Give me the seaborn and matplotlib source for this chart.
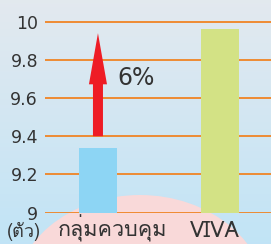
import matplotlib
matplotlib.use('Agg')
import matplotlib.pyplot as plt
from matplotlib import font_manager
from matplotlib.ft2font import FT2Font
from matplotlib.patches import Ellipse
import numpy as np
import pandas as pd
import seaborn as sns

groups = ['กลุ่มควบคุม', 'VIVA']
scores = [9.34, 9.96]
bar_colors = ['#8dd5f4', '#d3e285']
yticks = [9, 9.2, 9.4, 9.6, 9.8, 10]
ytick_labels = ['9', '9.2', '9.4', '9.6', '9.8', '10']
arrow_from = 9.4
arrow_to = 9.94
gain_label = '6%'
unit_label = '(ตัว)'


def thai_family():
    '''
    Pick an installed family that has Thai glyphs
    '''
    for f in font_manager.fontManager.ttflist:
        try:
            if 0x0E01 in FT2Font(f.fname).get_charmap():
                return f.name
        except Exception:
            pass
    return 'DejaVu Sans'


thai = thai_family()
plt.rcParams['font.family'] = [thai, 'DejaVu Sans']

fig = plt.figure(figsize=(2.71, 2.44), dpi=100)

# background: vertical gradient + pink ellipse
bg = fig.add_axes([0, 0, 1, 1])
grad = np.linspace(0, 1, 256).reshape(-1, 1)
top = np.array([0.890, 0.914, 0.937])
bottom = np.array([0.757, 0.894, 0.965])
img = top + (bottom - top) * grad[..., None]
bg.imshow(img, extent=[0, 271, 244, 0], aspect='auto')
bg.add_patch(Ellipse((140, 302), 256, 214, color='#f9d9d9', lw=0))
bg.set_xlim(0, 271)
bg.set_ylim(244, 0)
bg.axis('off')

ax = fig.add_axes([45 / 271, (244 - 212.5) / 244, 1 - 45 / 271, 212.5 / 244])
ax.patch.set_alpha(0)

df = pd.DataFrame({'group': groups, 'score': scores})
sns.barplot(data=df, x='group', y='score', hue='group', palette=bar_colors,
            width=0.31, saturation=1, legend=False, ax=ax)

ax.set_ylim(9, 10.114)
ax.set_xlim(-0.434, 1.418)
ax.set_yticks(yticks)
ax.set_yticklabels(ytick_labels, fontsize=12.5, color='#333333', family='DejaVu Sans')
ax.tick_params(axis='y', length=0, pad=5)
ax.set_xticks([])
ax.set_xlabel('')
ax.set_ylabel('')
for s in ax.spines.values():
    s.set_visible(False)
ax.yaxis.grid(True, color='#f08424', lw=1.3)
ax.set_axisbelow(True)

ax.arrow(0, arrow_from, 0, arrow_to - arrow_from, width=0.082, head_width=0.148,
         head_length=0.268, length_includes_head=True, color='#ee1c25', lw=0, zorder=3)
ax.text(0.16, 9.705, gain_label, fontsize=17, color='#333333', va='center', ha='left',
        family='DejaVu Sans')

ax.text(0.115, 8.872, groups[0], fontsize=15.5, color='#333333', ha='center',
        va='baseline', clip_on=False)
ax.text(0.96, 8.872, groups[1], fontsize=15.5, color='#333333', ha='center',
        va='baseline', clip_on=False)
fig.text(24 / 271, 0.028, unit_label, fontsize=13, color='#333333', ha='center',
         va='baseline')

fig.savefig('out.png', dpi=100)
